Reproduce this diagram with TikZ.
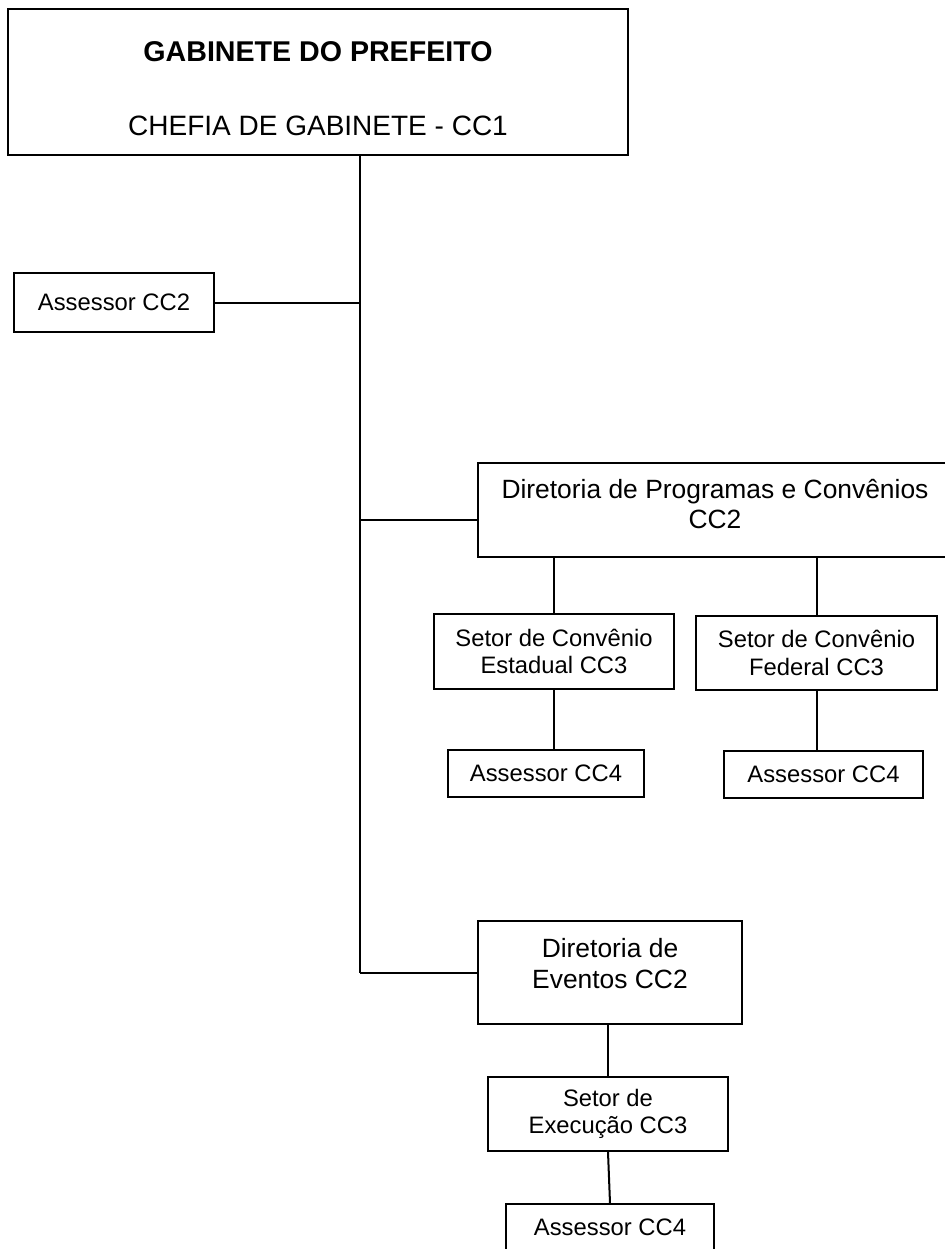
\documentclass[tikz,border=0pt]{standalone}
\usepackage{fontspec}
\setmainfont{Liberation Sans}
\usepackage{tikz}
\usetikzlibrary{positioning}

\begin{document}
\begin{tikzpicture}[x=0.5pt, y=-0.5pt, line width=1pt,
    box/.style={draw, align=center, inner sep=0pt},
    big/.style={font=\fontsize{13.2}{15.2}\selectfont},
    small/.style={font=\fontsize{11.9}{13.8}\selectfont}]
      \useasboundingbox (0,0) rectangle (945,1249);
      \coordinate (spine) at (360,0);
      \node[box, minimum width=310pt, minimum height=73pt, text height=53.7pt] (gabinete) at (318,82)
        {\fontsize{14.3}{17}\selectfont\bfseries GABINETE DO PREFEITO\\[24.9pt]
         \fontsize{14}{17}\selectfont CHEFIA DE GABINETE - CC1};
      \node[box, small, minimum width=100pt, minimum height=29.5pt] (assessor) at (114,302.5) {Assessor CC2};
      \node[box, big, minimum width=237pt, minimum height=47pt, text depth=6pt] (dirprog) at (715,510)
        {Diretoria de Programas e Convênios\\CC2};
      \node[box, small, minimum width=120pt, minimum height=37.5pt] (setest) at (554,651.5)
        {Setor de Convênio\\Estadual CC3};
      \node[box, small, minimum width=120.5pt, minimum height=37pt] (setfed) at (816.5,653)
        {Setor de Convênio\\Federal CC3};
      \node[box, small, minimum width=98pt, minimum height=23.5pt] (assest) at (546,773.5) {Assessor CC4};
      \node[box, small, minimum width=99.5pt, minimum height=23.5pt] (assfed) at (823.5,774) {Assessor CC4};
      \node[box, big, minimum width=132pt, minimum height=51.5pt, text depth=9pt] (direventos) at (610,972.5)
        {Diretoria de\\Eventos CC2};
      \node[box, small, minimum width=120pt, minimum height=37pt] (setexec) at (608,1114)
        {Setor de\\Execução CC3};
      \node[box, small, minimum width=104pt, minimum height=23.5pt] (assexec) at (610,1227.5) {Assessor CC4};
      \coordinate (progjoin) at ([yshift=-5pt]dirprog.west);
      \draw (spine |- gabinete.south) -- (spine |- direventos.west);
      \draw (assessor.east) -- (spine |- assessor.east);
      \draw (progjoin) -- (spine |- progjoin);
      \draw (direventos.west) -- (spine |- direventos.west);
      \draw (setest.north) -- (setest.north |- dirprog.south);
      \draw (setfed.north) -- (setfed.north |- dirprog.south);
      \draw (setest.south) -- (setest.south |- assest.north);
      \draw (setfed.south) -- (setfed.south |- assfed.north);
      \draw (setexec.north) -- (setexec.north |- direventos.south);
      \draw (setexec.south) -- (assexec.north);
    \end{tikzpicture}
\end{document}
